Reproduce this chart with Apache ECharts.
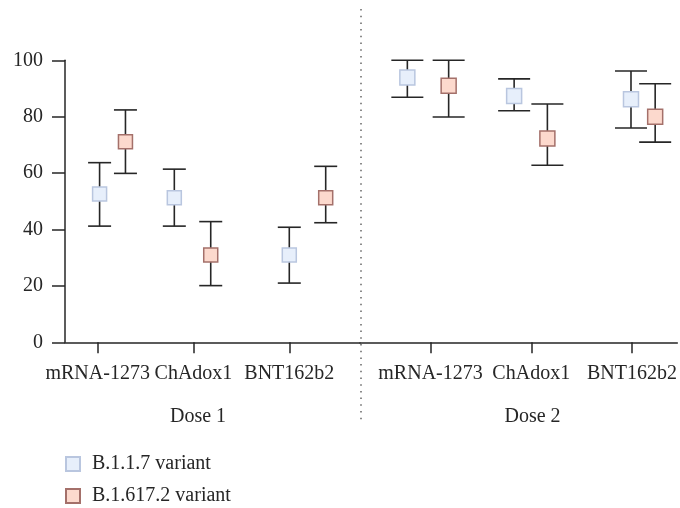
<!DOCTYPE html>
<html>
<head>
<meta charset="utf-8">
<script src="https://cdn.jsdelivr.net/npm/echarts@6/dist/echarts.min.js"></script>
<style>html,body{margin:0;padding:0;background:#fff;}#c{width:680px;height:508px;}</style>
</head>
<body>
<div id="c"></div>
<script>
const categories = ['mRNA-1273', 'ChAdox1', 'BNT162b2'];
const groupNames = ['Dose 1', 'Dose 2'];
const seriesNames = ['B.1.1.7 variant', 'B.1.617.2 variant'];
const yTicks = [0, 20, 40, 60, 80, 100];

// Dose 1
const d1_B117_mean = [52.6, 51.3, 31.0];
const d1_B117_lo   = [41.2, 41.2, 21.0];
const d1_B117_hi   = [63.7, 61.4, 40.8];
const d1_B16172_mean = [71.1, 31.0, 51.3];
const d1_B16172_lo   = [59.9, 20.1, 42.4];
const d1_B16172_hi   = [82.4, 42.8, 62.4];
// Dose 2
const d2_B117_mean = [93.9, 87.3, 86.2];
const d2_B117_lo   = [86.9, 82.1, 76.0];
const d2_B117_hi   = [100.0, 93.4, 96.2];
const d2_B16172_mean = [91.0, 72.3, 80.0];
const d2_B16172_lo   = [79.9, 62.8, 71.0];
const d2_B16172_hi   = [100.0, 84.5, 91.7];

// horizontal dodge of each point from its category (category units)
const d1_B117_dodge   = [0.02, -0.20, 0.00];
const d1_B16172_dodge = [0.29, 0.18, 0.38];
const d2_B117_dodge   = [-0.23, -0.17, -0.01];
const d2_B16172_dodge = [0.18, 0.16, 0.23];

const FONT = 'Liberation Serif';
const INK = '#262626';
const BLUE = {fill: '#e7effb', border: '#b9c6df'};
const RED = {fill: '#fcd9cd', border: '#a4706a'};

function pts(mean, dodge) { return mean.map((v, i) => [i + 1 + dodge[i], v]); }
function bars(lo, hi, dodge) { return lo.map((v, i) => [i + 1 + dodge[i], v, hi[i]]); }

function errSeries(name, data, grid, capHalf) {
  return {
    type: 'custom', name: name, xAxisIndex: grid, yAxisIndex: grid, clip: false, z: 2,
    silent: true,
    renderItem: function (params, api) {
      const x = api.value(0);
      const top = api.coord([x, api.value(2)]);
      const bot = api.coord([x, api.value(1)]);
      const st = {stroke: INK, lineWidth: 1.6};
      return {type: 'group', children: [
        {type: 'line', shape: {x1: top[0], y1: top[1], x2: bot[0], y2: bot[1]}, style: st},
        {type: 'line', shape: {x1: top[0] - capHalf, y1: top[1], x2: top[0] + capHalf, y2: top[1]}, style: st},
        {type: 'line', shape: {x1: bot[0] - capHalf, y1: bot[1], x2: bot[0] + capHalf, y2: bot[1]}, style: st}
      ]};
    },
    data: data
  };
}
function ptSeries(name, data, grid, col, size) {
  return {
    type: 'scatter', name: name, xAxisIndex: grid, yAxisIndex: grid, z: 5,
    symbol: 'rect', symbolSize: size, clip: false,
    itemStyle: {color: col.fill, borderColor: col.border, borderWidth: 1.5, opacity: 1},
    data: data
  };
}

const xAxisBase = {
  type: 'value',
  axisLine: {show: true, lineStyle: {color: INK, width: 1.5}},
  axisTick: {show: true, customValues: [1, 2, 3], length: 11, inside: false, lineStyle: {color: INK, width: 1.5}},
  axisLabel: {show: true, customValues: [1, 2, 3], margin: 21, fontFamily: FONT, fontSize: 20, color: INK,
              formatter: v => categories[Math.round(v) - 1] || ''},
  splitLine: {show: false}
};

const chart = echarts.init(document.getElementById('c'));
chart.setOption({
  animation: false,
  backgroundColor: '#fff',
  grid: [
    {left: 65, right: 320, top: 60.3, bottom: 165.7},
    {left: 360, right: 0, top: 60.3, bottom: 165.7}
  ],
  xAxis: [
    Object.assign({}, xAxisBase, {gridIndex: 0, min: 0.659, max: 3.738}),
    Object.assign({}, xAxisBase, {gridIndex: 1, min: 0.300, max: 3.45})
  ],
  yAxis: [
    {type: 'value', gridIndex: 0, min: 0, max: 100, interval: 20,
     axisLine: {show: true, lineStyle: {color: INK, width: 1.5}},
     axisTick: {show: true, length: 13, lineStyle: {color: INK, width: 1.5}},
     axisLabel: {margin: 22, fontFamily: FONT, fontSize: 20, color: INK,
                 formatter: v => yTicks.indexOf(v) >= 0 ? String(v) : ''},
     splitLine: {show: false}},
    {type: 'value', gridIndex: 1, min: 0, max: 100, interval: 20, show: false}
  ],
  legend: {
    orient: 'vertical', left: 65, top: 454, height: 54, itemWidth: 14, itemHeight: 14, itemGap: 12,
    padding: 0,
    icon: 'rect',
    data: seriesNames,
    textStyle: {fontFamily: FONT, fontSize: 20, color: INK, padding: [0, 0, 0, 7]}
  },
  graphic: [
    {type: 'line', shape: {x1: 361, y1: 9, x2: 361, y2: 423},
     style: {stroke: '#666', lineWidth: 1.5, lineDash: [1.5, 5.2]}},
    {type: 'text', x: 198, y: 417, style: {text: groupNames[0], fontFamily: FONT, fontSize: 20, fill: INK, align: 'center', verticalAlign: 'middle'}},
    {type: 'text', x: 532.5, y: 417, style: {text: groupNames[1], fontFamily: FONT, fontSize: 20, fill: INK, align: 'center', verticalAlign: 'middle'}}
  ],
  series: [
    errSeries('err1a', bars(d1_B117_lo, d1_B117_hi, d1_B117_dodge), 0, 11.5),
    errSeries('err1b', bars(d1_B16172_lo, d1_B16172_hi, d1_B16172_dodge), 0, 11.5),
    errSeries('err2a', bars(d2_B117_lo, d2_B117_hi, d2_B117_dodge), 1, 16),
    errSeries('err2b', bars(d2_B16172_lo, d2_B16172_hi, d2_B16172_dodge), 1, 16),
    ptSeries(seriesNames[0], pts(d1_B117_mean, d1_B117_dodge), 0, BLUE, 14),
    ptSeries(seriesNames[1], pts(d1_B16172_mean, d1_B16172_dodge), 0, RED, 14),
    ptSeries(seriesNames[0], pts(d2_B117_mean, d2_B117_dodge), 1, BLUE, 15),
    ptSeries(seriesNames[1], pts(d2_B16172_mean, d2_B16172_dodge), 1, RED, 15)
  ]
});
</script>
</body>
</html>
